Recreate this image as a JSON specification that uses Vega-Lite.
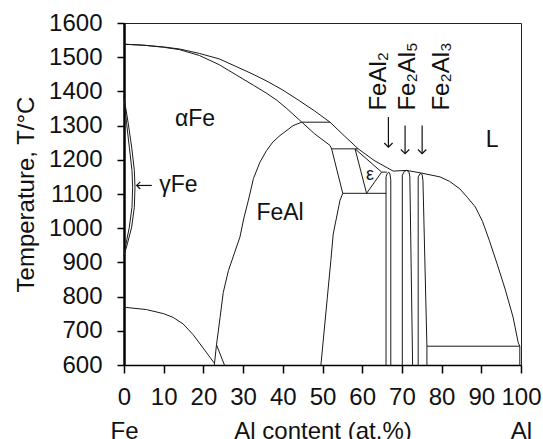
{
  "$schema": "https://vega.github.io/schema/vega-lite/v6.json",
  "width": 397,
  "height": 342,
  "autosize": {"type": "none"},
  "padding": {"left": 124, "top": 23, "right": 22, "bottom": 74},
  "background": "white",
  "config": {
    "view": {"stroke": "#222", "strokeWidth": 1},
    "font": "Liberation Sans",
    "text": {"font": "Liberation Sans", "color": "#111"},
    "axis": {
      "grid": false,
      "labelFont": "Liberation Sans", "labelFontSize": 24, "labelColor": "#111",
      "titleFont": "Liberation Sans", "titleFontSize": 24, "titleFontWeight": "normal", "titleColor": "#111",
      "domainColor": "#000", "tickColor": "#000", "tickWidth": 1.5,
      "labelOverlap": false, "labelFlush": false
    },
    "axisX": {"domainWidth": 1.5, "tickSize": 8, "labelPadding": 12, "labelLineHeight": 34, "titleBaseline": "alphabetic", "titleY": 73},
    "axisY": {"domainWidth": 2.5, "tickSize": 7, "labelPadding": 15, "titlePadding": 10}
  },
  "encoding": {
    "x": {
      "field": "x", "type": "quantitative",
      "scale": {"domain": [0, 100], "nice": false, "zero": false},
      "axis": {
        "values": [0, 10, 20, 30, 40, 50, 60, 70, 80, 90, 100],
        "title": "Al content (at.%)",
        "labelExpr": "datum.value == 0 ? ['0', 'Fe'] : datum.value == 100 ? ['100', 'Al'] : datum.label"
      }
    },
    "y": {
      "field": "T", "type": "quantitative",
      "scale": {"domain": [600, 1600], "nice": false, "zero": false},
      "axis": {
        "values": [600, 700, 800, 900, 1000, 1100, 1200, 1300, 1400, 1500, 1600],
        "format": "d",
        "title": "Temperature, T/°C"
      }
    }
  },
  "datasets": {
    "lines": [
      {"id": "liq", "o": 1, "x": 0, "T": 1538}, {"id": "liq", "o": 2, "x": 5, "T": 1535}, {"id": "liq", "o": 3, "x": 10, "T": 1530}, {"id": "liq", "o": 4, "x": 14, "T": 1524}, {"id": "liq", "o": 5, "x": 19, "T": 1511}, {"id": "liq", "o": 6, "x": 24, "T": 1495}, {"id": "liq", "o": 7, "x": 28, "T": 1474}, {"id": "liq", "o": 8, "x": 32, "T": 1453}, {"id": "liq", "o": 9, "x": 36, "T": 1430}, {"id": "liq", "o": 10, "x": 40, "T": 1404}, {"id": "liq", "o": 11, "x": 44, "T": 1374}, {"id": "liq", "o": 12, "x": 48, "T": 1343}, {"id": "liq", "o": 13, "x": 51.9, "T": 1310}, {"id": "liq", "o": 14, "x": 55.5, "T": 1270}, {"id": "liq", "o": 15, "x": 59, "T": 1232}, {"id": "liq", "o": 16, "x": 63, "T": 1198}, {"id": "liq", "o": 17, "x": 67.8, "T": 1167}, {"id": "liq", "o": 18, "x": 71.2, "T": 1169}, {"id": "liq", "o": 19, "x": 75, "T": 1161}, {"id": "liq", "o": 20, "x": 79.6, "T": 1150}, {"id": "liq", "o": 21, "x": 82, "T": 1137}, {"id": "liq", "o": 22, "x": 84.6, "T": 1115}, {"id": "liq", "o": 23, "x": 86.5, "T": 1090}, {"id": "liq", "o": 24, "x": 88.5, "T": 1062}, {"id": "liq", "o": 25, "x": 90.3, "T": 1020}, {"id": "liq", "o": 26, "x": 92, "T": 965}, {"id": "liq", "o": 27, "x": 94, "T": 895}, {"id": "liq", "o": 28, "x": 96, "T": 822}, {"id": "liq", "o": 29, "x": 98, "T": 740}, {"id": "liq", "o": 30, "x": 99.3, "T": 665}, {"id": "liq", "o": 31, "x": 99.7, "T": 655},
      {"id": "sol", "o": 1, "x": 0, "T": 1538}, {"id": "sol", "o": 2, "x": 5, "T": 1535}, {"id": "sol", "o": 3, "x": 10, "T": 1529}, {"id": "sol", "o": 4, "x": 14, "T": 1522}, {"id": "sol", "o": 5, "x": 19, "T": 1505}, {"id": "sol", "o": 6, "x": 24, "T": 1478}, {"id": "sol", "o": 7, "x": 28, "T": 1450}, {"id": "sol", "o": 8, "x": 32.6, "T": 1418}, {"id": "sol", "o": 9, "x": 36, "T": 1394}, {"id": "sol", "o": 10, "x": 38.5, "T": 1374}, {"id": "sol", "o": 11, "x": 41, "T": 1350}, {"id": "sol", "o": 12, "x": 44.8, "T": 1310}, {"id": "sol", "o": 13, "x": 48, "T": 1276}, {"id": "sol", "o": 14, "x": 51.9, "T": 1242}, {"id": "sol", "o": 15, "x": 52.3, "T": 1232},
      {"id": "fealr", "o": 1, "x": 52.3, "T": 1232}, {"id": "fealr", "o": 2, "x": 55.1, "T": 1102}, {"id": "fealr", "o": 3, "x": 54.4, "T": 1081}, {"id": "fealr", "o": 4, "x": 52.7, "T": 983}, {"id": "fealr", "o": 5, "x": 52.1, "T": 905}, {"id": "fealr", "o": 6, "x": 51.2, "T": 795}, {"id": "fealr", "o": 7, "x": 49.6, "T": 600},
      {"id": "feall", "o": 1, "x": 22.75, "T": 600}, {"id": "feall", "o": 2, "x": 23.3, "T": 659}, {"id": "feall", "o": 3, "x": 24.2, "T": 739}, {"id": "feall", "o": 4, "x": 25.0, "T": 812}, {"id": "feall", "o": 5, "x": 26.3, "T": 876}, {"id": "feall", "o": 6, "x": 29.2, "T": 974}, {"id": "feall", "o": 7, "x": 30.2, "T": 1030}, {"id": "feall", "o": 8, "x": 31.3, "T": 1080}, {"id": "feall", "o": 9, "x": 32.6, "T": 1145}, {"id": "feall", "o": 10, "x": 34.2, "T": 1192}, {"id": "feall", "o": 11, "x": 35.9, "T": 1227}, {"id": "feall", "o": 12, "x": 37.5, "T": 1252}, {"id": "feall", "o": 13, "x": 39.3, "T": 1271}, {"id": "feall", "o": 14, "x": 42.6, "T": 1300}, {"id": "feall", "o": 15, "x": 44.8, "T": 1310},
      {"id": "curie", "o": 1, "x": 0, "T": 769}, {"id": "curie", "o": 2, "x": 5.7, "T": 762}, {"id": "curie", "o": 3, "x": 10, "T": 750}, {"id": "curie", "o": 4, "x": 12.4, "T": 739}, {"id": "curie", "o": 5, "x": 14.9, "T": 720}, {"id": "curie", "o": 6, "x": 17.4, "T": 689}, {"id": "curie", "o": 7, "x": 19.9, "T": 650}, {"id": "curie", "o": 8, "x": 22.7, "T": 606},
      {"id": "d03", "o": 1, "x": 23.3, "T": 659}, {"id": "d03", "o": 2, "x": 25.3, "T": 600},
      {"id": "gout", "o": 1, "x": 0, "T": 1383}, {"id": "gout", "o": 2, "x": 1.09, "T": 1305}, {"id": "gout", "o": 3, "x": 1.93, "T": 1237}, {"id": "gout", "o": 4, "x": 2.6, "T": 1169}, {"id": "gout", "o": 5, "x": 2.77, "T": 1120}, {"id": "gout", "o": 6, "x": 2.6, "T": 1061}, {"id": "gout", "o": 7, "x": 1.93, "T": 1003}, {"id": "gout", "o": 8, "x": 0.84, "T": 954}, {"id": "gout", "o": 9, "x": 0, "T": 920},
      {"id": "gin", "o": 1, "x": 0, "T": 1383}, {"id": "gin", "o": 2, "x": 0.67, "T": 1305}, {"id": "gin", "o": 3, "x": 1.34, "T": 1237}, {"id": "gin", "o": 4, "x": 2.01, "T": 1169}, {"id": "gin", "o": 5, "x": 2.18, "T": 1120}, {"id": "gin", "o": 6, "x": 2.01, "T": 1061}, {"id": "gin", "o": 7, "x": 1.34, "T": 1003}, {"id": "gin", "o": 8, "x": 0.5, "T": 954}, {"id": "gin", "o": 9, "x": 0, "T": 920},
      {"id": "h1310", "o": 1, "x": 44.8, "T": 1310}, {"id": "h1310", "o": 2, "x": 51.9, "T": 1310},
      {"id": "h1232", "o": 1, "x": 52.3, "T": 1232}, {"id": "h1232", "o": 2, "x": 59, "T": 1232},
      {"id": "h1102", "o": 1, "x": 55.1, "T": 1102}, {"id": "h1102", "o": 2, "x": 66.0, "T": 1102},
      {"id": "h1164", "o": 1, "x": 64.9, "T": 1164}, {"id": "h1164", "o": 2, "x": 66.2, "T": 1164},
      {"id": "eps", "o": 1, "x": 58.2, "T": 1232}, {"id": "eps", "o": 2, "x": 64.9, "T": 1164}, {"id": "eps", "o": 3, "x": 61.1, "T": 1102}, {"id": "eps", "o": 4, "x": 58.2, "T": 1232},
      {"id": "feal2", "o": 1, "x": 66.0, "T": 600}, {"id": "feal2", "o": 2, "x": 66.0, "T": 1150}, {"id": "feal2", "o": 3, "x": 66.3, "T": 1160}, {"id": "feal2", "o": 4, "x": 66.7, "T": 1164}, {"id": "feal2", "o": 5, "x": 67.0, "T": 1158}, {"id": "feal2", "o": 6, "x": 67.2, "T": 1140}, {"id": "feal2", "o": 7, "x": 67.2, "T": 600},
      {"id": "fe2al5", "o": 1, "x": 70.1, "T": 600}, {"id": "fe2al5", "o": 2, "x": 70.1, "T": 1155}, {"id": "fe2al5", "o": 3, "x": 70.6, "T": 1166}, {"id": "fe2al5", "o": 4, "x": 71.2, "T": 1169}, {"id": "fe2al5", "o": 5, "x": 71.8, "T": 1164}, {"id": "fe2al5", "o": 6, "x": 72.0, "T": 1150}, {"id": "fe2al5", "o": 7, "x": 72.7, "T": 600},
      {"id": "fe4al13", "o": 1, "x": 74.1, "T": 600}, {"id": "fe4al13", "o": 2, "x": 74.1, "T": 1150}, {"id": "fe4al13", "o": 3, "x": 74.6, "T": 1160}, {"id": "fe4al13", "o": 4, "x": 75.1, "T": 1157}, {"id": "fe4al13", "o": 5, "x": 75.3, "T": 1140}, {"id": "fe4al13", "o": 6, "x": 76.3, "T": 655}, {"id": "fe4al13", "o": 7, "x": 76.3, "T": 600},
      {"id": "h655", "o": 1, "x": 76.3, "T": 655}, {"id": "h655", "o": 2, "x": 99.7, "T": 655},
      {"id": "alss", "o": 1, "x": 99.7, "T": 655}, {"id": "alss", "o": 2, "x": 99.7, "T": 600}
    ],
    "labels": [
      {"x": 17.9, "T": 1318, "label": "αFe"},
      {"x": 39.3, "T": 1044, "label": "FeAl"},
      {"x": 92.7, "T": 1257, "label": "L"},
      {"x": 13.7, "T": 1125, "label": "γFe"}
    ],
    "eps": [{"x": 62.0, "T": 1157, "label": "ε"}],
    "phases": [
      {"x": 65.9, "T": 1344, "label": "FeAl₂"},
      {"x": 73.4, "T": 1344, "label": "Fe₂Al₅"},
      {"x": 81.8, "T": 1344, "label": "Fe₂Al₃"}
    ],
    "darrows": [
      {"x": 66.6, "T": 1325, "T2": 1237},
      {"x": 70.8, "T": 1300, "T2": 1218},
      {"x": 75.1, "T": 1300, "T2": 1218}
    ],
    "larrows": [{"x": 3.2, "x2": 7.0, "T": 1125}]
  },
  "layer": [
    {
      "data": {"name": "lines"},
      "mark": {"type": "line", "color": "#1a1a1a", "strokeWidth": 1, "interpolate": "linear"},
      "encoding": {
        "detail": {"field": "id", "type": "nominal"},
        "order": {"field": "o", "type": "quantitative"}
      }
    },
    {
      "data": {"name": "labels"},
      "mark": {"type": "text", "fontSize": 23, "align": "center", "baseline": "middle"},
      "encoding": {"text": {"field": "label"}}
    },
    {
      "data": {"name": "eps"},
      "mark": {"type": "text", "fontSize": 18, "align": "center", "baseline": "middle"},
      "encoding": {"text": {"field": "label"}}
    },
    {
      "data": {"name": "phases"},
      "mark": {"type": "text", "fontSize": 24, "angle": 270, "align": "left", "baseline": "alphabetic"},
      "encoding": {"text": {"field": "label"}}
    },
    {
      "data": {"name": "darrows"},
      "mark": {"type": "rule", "color": "#111", "strokeWidth": 1.2},
      "encoding": {"y2": {"field": "T2"}}
    },
    {
      "data": {"name": "darrows"},
      "mark": {"type": "point", "shape": "M-1,-1L0,0L1,-1", "filled": false, "stroke": "#111", "strokeWidth": 1.2, "size": 70, "opacity": 1},
      "encoding": {
        "y": {"field": "T2", "type": "quantitative"}
      }
    },
    {
      "data": {"name": "larrows"},
      "mark": {"type": "rule", "color": "#111", "strokeWidth": 1.2},
      "encoding": {"x2": {"field": "x2"}}
    },
    {
      "data": {"name": "larrows"},
      "mark": {"type": "point", "shape": "M1,-1L0,0L1,1", "filled": false, "stroke": "#111", "strokeWidth": 1.2, "size": 50, "opacity": 1},
      "encoding": {}
    }
  ]
}
